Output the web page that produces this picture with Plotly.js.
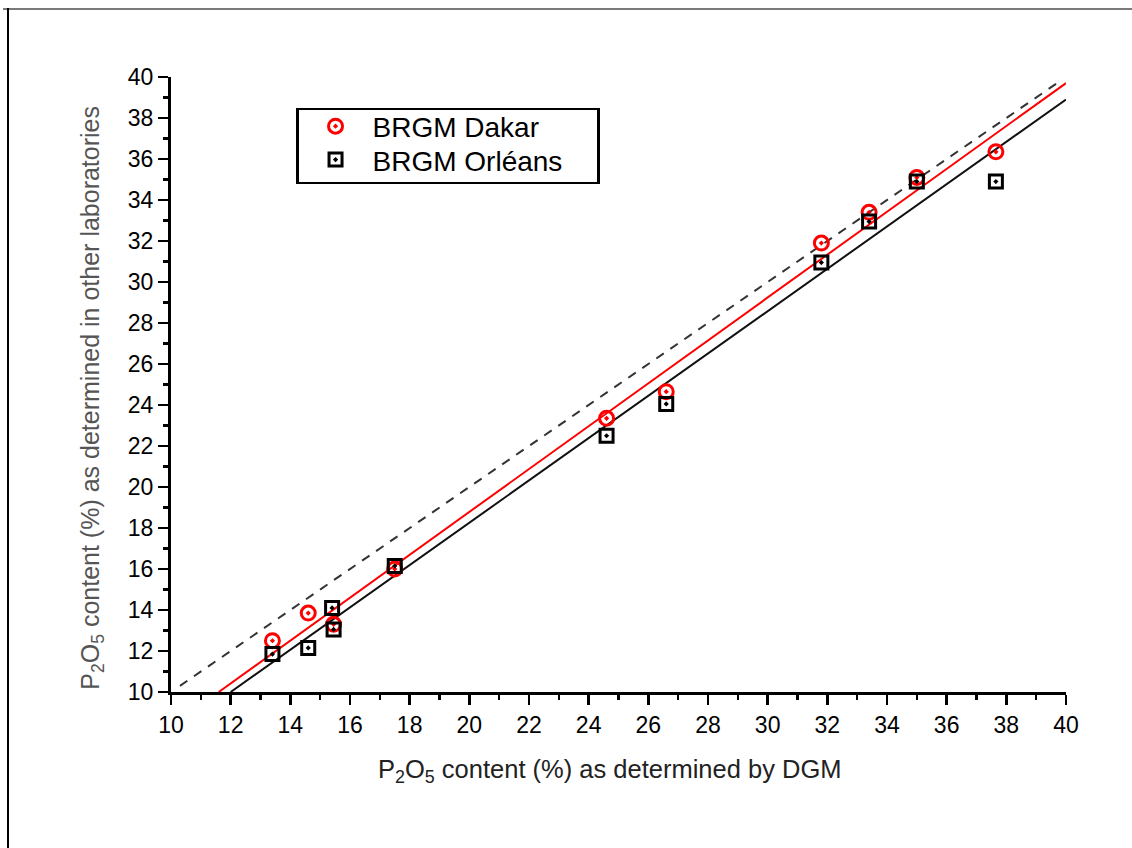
<!DOCTYPE html>
<html>
<head>
<meta charset="utf-8">
<script src="https://cdn.plot.ly/plotly-3.0.1.min.js"></script>
<style>
html,body{margin:0;padding:0;background:#fff;}
#plot{position:absolute;left:0;top:0;width:1132px;height:848px;}
#ftop{position:absolute;left:3px;top:8px;width:1129px;height:2px;background:#7a7a7a;}
#fleft{position:absolute;left:7px;top:8px;width:1.5px;height:840px;background:#000;}
</style>
</head>
<body>
<div id="plot"></div>
<div id="ftop"></div>
<div id="fleft"></div>
<script>
// DGM values (x) and other-laboratory values (y)
const dgmDakar   = [13.4, 14.6, 15.45, 17.5, 24.6, 26.6, 31.8, 33.4, 35.0, 37.65];
const dakar      = [12.5, 13.85, 13.3, 16.0, 23.35, 24.65, 31.9, 33.4, 35.1, 36.35];
const dgmOrleans = [13.4, 14.6, 15.4, 15.45, 17.5, 24.6, 26.6, 31.8, 33.4, 35.0, 37.65];
const orleans    = [11.85, 12.15, 14.1, 13.05, 16.15, 22.5, 24.05, 30.95, 32.95, 34.9, 34.9];

// Fitted lines (end points) and 1:1 line
const fitDakarX   = [11.6, 40];
const fitDakarY   = [10, 39.7];
const fitOrleansX = [12.0, 40];
const fitOrleansY = [10, 38.9];
const identityX   = [10.3, 39.8];
const identityY   = [10.3, 39.8];

const seriesNames = ['BRGM Dakar', 'BRGM Orléans'];
const xTitle = 'P<sub>2</sub>O<sub>5</sub> content (%) as determined by DGM';
const yTitle = 'P<sub>2</sub>O<sub>5</sub> content (%) as determined in other laboratories';

const FONT = 'Liberation Sans, Arial, Helvetica, sans-serif';

const traces = [
  {x: identityX, y: identityY, mode: 'lines', showlegend: false, hoverinfo: 'skip',
   line: {color: '#333', width: 2, dash: '9px,8px'}},
  {x: fitDakarX, y: fitDakarY, mode: 'lines', showlegend: false, hoverinfo: 'skip',
   line: {color: '#ff0000', width: 2}},
  {x: fitOrleansX, y: fitOrleansY, mode: 'lines', showlegend: false, hoverinfo: 'skip',
   line: {color: '#111', width: 2}},
  {x: dgmDakar, y: dakar, mode: 'markers', name: seriesNames[0],
   marker: {symbol: 'circle-open-dot', size: 14, color: '#ff0000', line: {color: '#ff0000', width: 3}}},
  {x: dgmOrleans, y: orleans, mode: 'markers', name: seriesNames[1],
   marker: {symbol: 'square-open-dot', size: 13, color: '#000', line: {color: '#000', width: 3}}}
];

const axisCommon = {
  range: [10, 40],
  tick0: 10, dtick: 2,
  ticks: 'outside', ticklen: 10, tickwidth: 2.5, tickcolor: '#000',
  showline: true, linewidth: 3, linecolor: '#000',
  showgrid: false, zeroline: false, mirror: false,
  tickfont: {family: FONT, size: 23, color: '#000'},
  minor: {dtick: 1, tick0: 10, ticks: 'outside', ticklen: 5, tickwidth: 2.5, tickcolor: '#000', showgrid: false}
};

const layout = {
  width: 1132, height: 848,
  margin: {l: 171, r: 66, t: 77, b: 156},
  paper_bgcolor: 'rgba(0,0,0,0)', plot_bgcolor: '#fff',
  font: {family: FONT, color: '#000'},
  showlegend: true,
  xaxis: Object.assign({}, axisCommon, {title: {text: ''}}),
  yaxis: Object.assign({}, axisCommon, {title: {text: ''}}),
  annotations: [
    {
      text: xTitle, showarrow: false,
      xref: 'paper', yref: 'paper', x: 0.49, y: -0.128,
      xanchor: 'center', yanchor: 'middle',
      font: {family: FONT, size: 25.5, color: '#222'}
    },
    {
      text: yTitle, textangle: -90, showarrow: false,
      xref: 'paper', yref: 'paper', x: -0.088, y: 0.479,
      xanchor: 'center', yanchor: 'middle',
      font: {family: FONT, size: 25, color: '#555'}
    }
  ],
  legend: {
    x: 0.1397, y: 0.9496, xanchor: 'left', yanchor: 'top',
    bgcolor: '#fff', bordercolor: '#000', borderwidth: 2.5,
    font: {family: FONT, size: 28, color: '#000'},
    itemwidth: 64, tracegroupgap: 0
  }
};

Plotly.newPlot('plot', traces, layout, {displayModeBar: false, staticPlot: true}).then(function (gd) {
  // tighten the legend box to match the reference's compact spacing
  const bg = gd.querySelector('.legend rect.bg');
  const items = gd.querySelectorAll('.legend .traces');
  const shifts = [-9, -15];
  items.forEach(function (el, i) {
    const tr = el.getAttribute('transform') || '';
    const m = tr.match(/translate\(\s*([-\d.]+)[ ,]+([-\d.]+)\s*\)/);
    if (m) {
      el.setAttribute('transform', 'translate(' + m[1] + ',' + (parseFloat(m[2]) + shifts[i]) + ')');
    }
  });
  if (bg) {
    bg.setAttribute('height', 74);
    bg.setAttribute('width', 301);
  }
});
</script>
</body>
</html>
